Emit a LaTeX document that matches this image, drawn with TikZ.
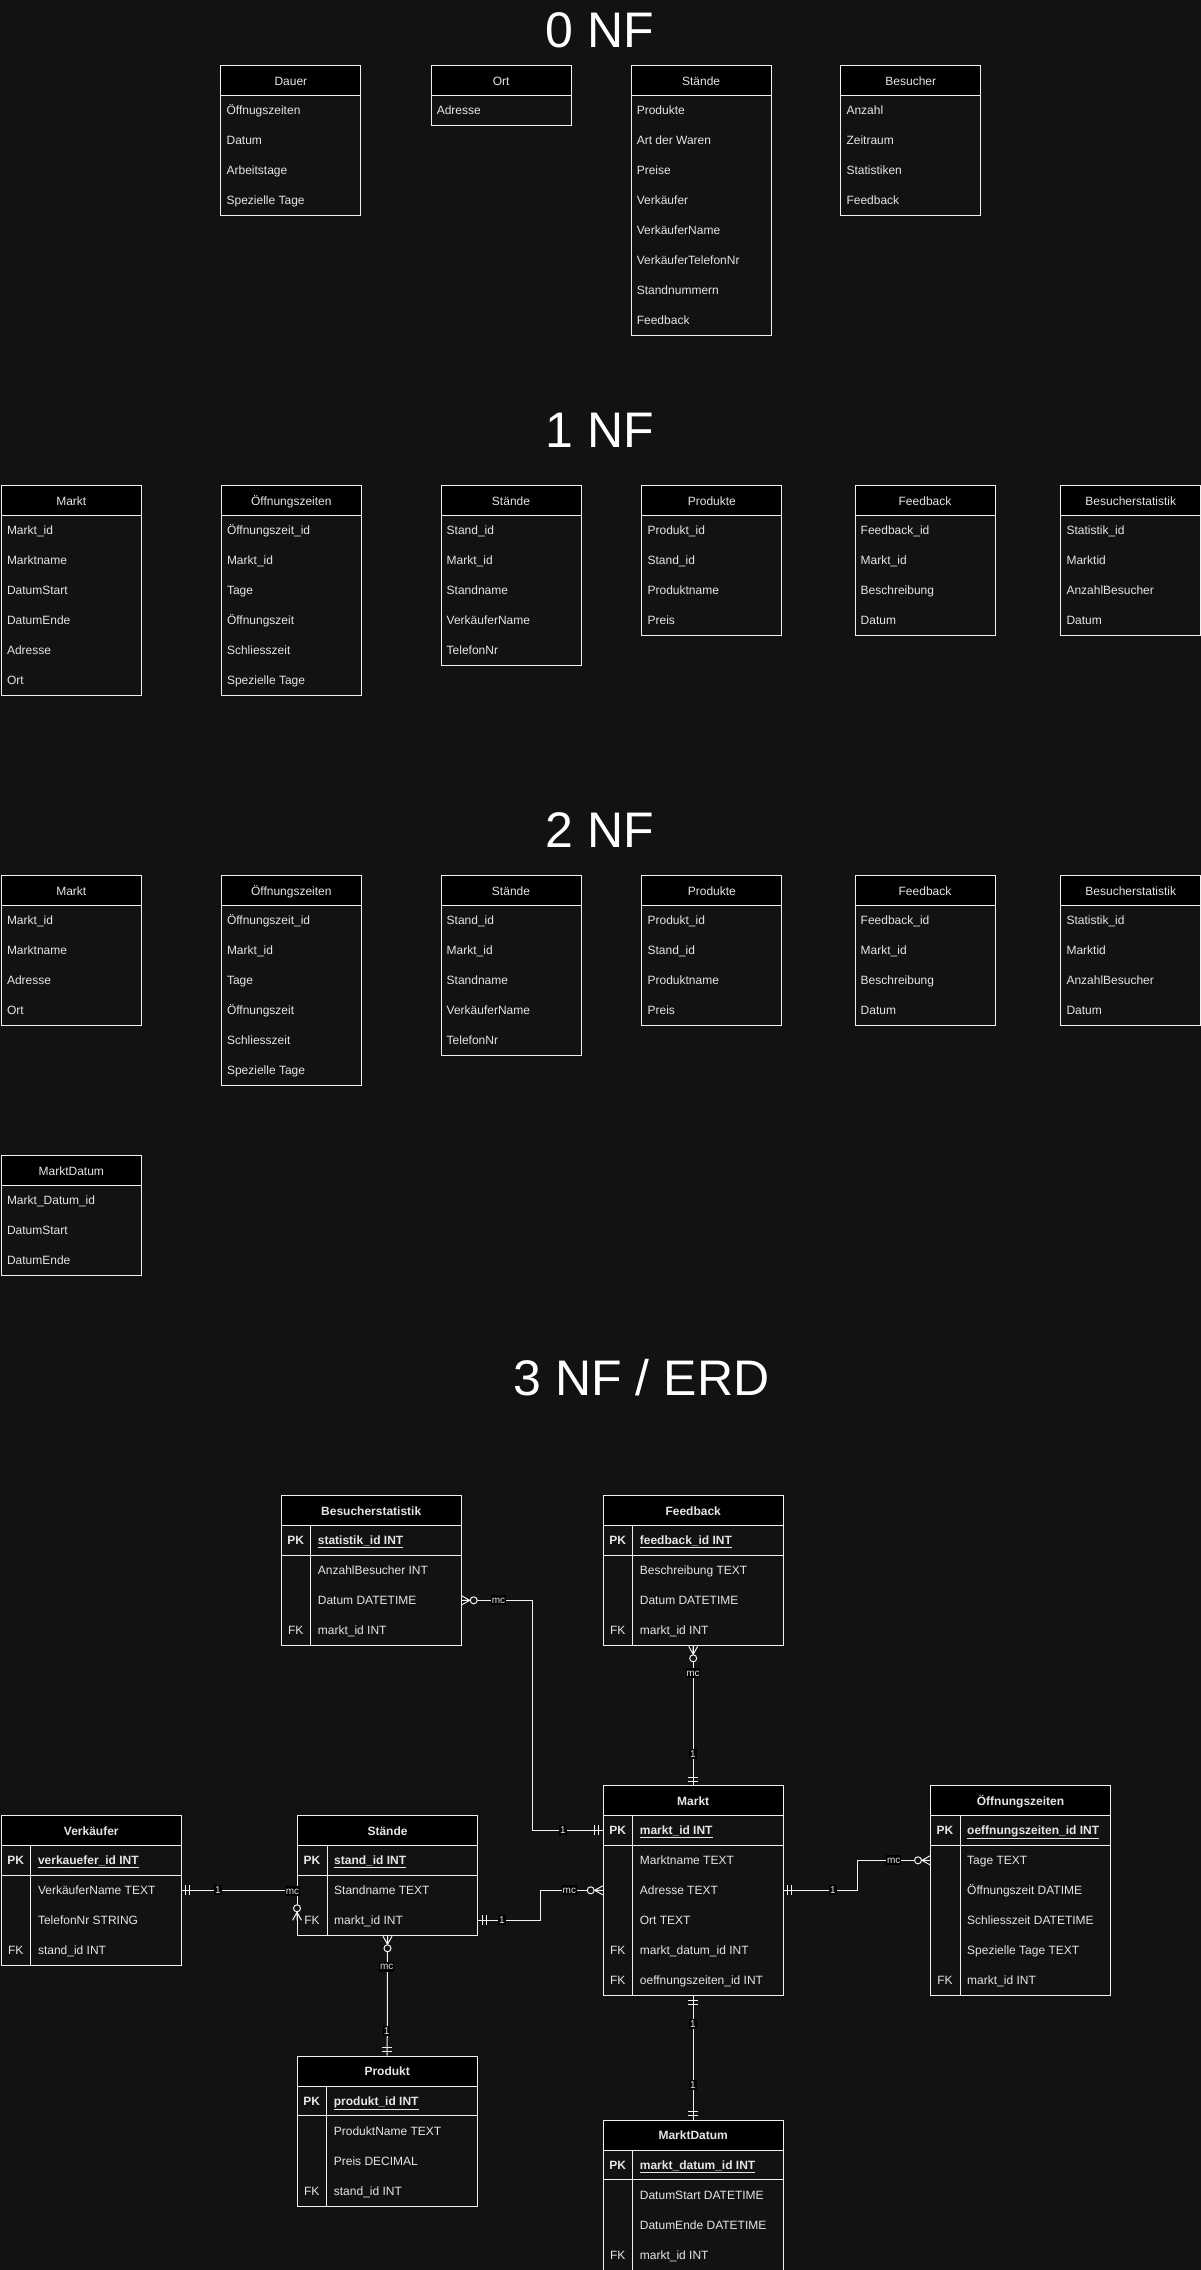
\documentclass[tikz,border=0pt]{standalone}
\usepackage{fontspec}
\setmainfont{Liberation Sans}
\definecolor{bg}{HTML}{121212}
\definecolor{fg}{HTML}{E6E6E6}
\definecolor{ln}{HTML}{F2F2F2}

\tikzset{
  nfbox/.style={draw=ln, line width=1pt, anchor=north west, minimum width=140pt, inner sep=0pt, fill=bg},
  nfhead/.style={draw=ln, line width=1pt, fill=black, anchor=north west, minimum width=140pt, minimum height=30pt, inner sep=0pt, text=fg, font=\fontsize{12}{14}\selectfont, text height=11pt, text depth=2.4pt},
  erbox/.style={draw=ln, line width=1pt, anchor=north west, minimum width=180pt, inner sep=0pt, fill=bg},
  erhead/.style={draw=ln, line width=1pt, fill=black, anchor=north west, minimum width=180pt, minimum height=30pt, inner sep=0pt, text=fg, font=\fontsize{12}{14}\selectfont\bfseries, text height=11pt, text depth=2.4pt},
  rowtxt/.style={anchor=base west, inner sep=0pt, text=fg, font=\fontsize{12}{14}\selectfont},
  keytxt/.style={anchor=base, inner sep=0pt, text=fg, font=\fontsize{12}{14}\selectfont},
  sepline/.style={draw=ln, line width=1pt},
  conn/.style={draw=ln, line width=1pt},
  lbl/.style={fill=black, text=fg, font=\fontsize{10}{12}\selectfont, inner xsep=0.8pt, inner ysep=0.6pt, text height=7.5pt, text depth=1.5pt},
  title/.style={text=white, font=\fontsize{50}{60}\selectfont, inner sep=0pt}
}

% name, x, y, title, rows
\newcommand\nftable[5]{%
  \gdef\nfrows{0}%
  \foreach \rowtext [count=\ii] in {#5} {\xdef\nfrows{\ii}}%
  \node[nfbox, minimum height={30+30*\nfrows}] (#1) at (#2,#3) {};
  \node[nfhead] (#1-h) at (#2,#3) {#4};
  \foreach \rowtext [count=\ii] in {#5} {
    \node[rowtxt] (#1-\ii) at ({#2+6},{#3+30*\ii+15+4.3}) {\rowtext};
  }
}

% name, x, y, title, key/field rows (first is PK)
\newcommand\erdtable[5]{%
  \gdef\errows{0}%
  \foreach \kk/\ff [count=\ii] in {#5} {\xdef\errows{\ii}}%
  \node[erbox, minimum height={30+30*\errows}] (#1) at (#2,#3) {};
  \node[erhead] (#1-h) at (#2,#3) {#4};
  \draw[sepline] ({#2},{#3+60}) -- ({#2+180},{#3+60});
  \draw[sepline] ({#2+30},{#3+30}) -- ({#2+30},{#3+30+30*\errows});
  \foreach \kk/\ff [count=\ii] in {#5} {
    \coordinate (#1-r\ii) at ({#2+90},{#3+30*\ii+15});
    \ifnum\ii=1
      \node[keytxt, font=\fontsize{12}{14}\selectfont\bfseries] (#1-k\ii) at ({#2+15},{#3+30*\ii+15+4.3}) {\kk};
      \node[rowtxt, font=\fontsize{12}{14}\selectfont\bfseries] (#1-f\ii) at ({#2+37},{#3+30*\ii+15+4.3}) {\underline{\ff}};
    \else
      \node[keytxt] (#1-k\ii) at ({#2+15},{#3+30*\ii+15+4.3}) {\kk};
      \node[rowtxt] (#1-f\ii) at ({#2+37},{#3+30*\ii+15+4.3}) {\ff};
    \fi
  }
}

% markers: point, outward direction angle
\newcommand\zeromany[2]{%
  \begin{scope}[shift={#1},rotate=#2]
    \draw[conn] (0,-4.5) -- (8,0) -- (0,4.5) (0,0) -- (8,0);
    \draw[conn, fill=bg] (12,0) circle (3.5);
  \end{scope}}
\newcommand\mandone[2]{%
  \begin{scope}[shift={#1},rotate=#2]
    \draw[conn] (4,-5) -- (4,5) (8,-5) -- (8,5);
  \end{scope}}

\begin{document}
\begin{tikzpicture}[x=1pt,y=-1pt]
\useasboundingbox (0,0) rectangle (1201,2270);
\fill[bg] (0,0) rectangle (1201,2270);

% ---------- 0 NF ----------
\node[title] (t0) at (600,30) {0 NF};
\nftable{dauer}{220.4}{65.3}{Dauer}{Öffnugszeiten,Datum,Arbeitstage,Spezielle Tage}
\nftable{ort}{430.6}{65.3}{Ort}{Adresse}
\nftable{staendeA}{630.6}{65.3}{Stände}{Produkte,Art der Waren,Preise,Verkäufer,VerkäuferName,VerkäuferTelefonNr,Standnummern,Feedback}
\nftable{besucher}{840.3}{65.3}{Besucher}{Anzahl,Zeitraum,Statistiken,Feedback}

% ---------- 1 NF ----------
\node[title] (t1) at (600,430) {1 NF};
\nftable{marktB}{0.8}{485.3}{Markt}{Markt\_id,Marktname,DatumStart,DatumEnde,Adresse,Ort}
\nftable{ozB}{220.8}{485.3}{Öffnungszeiten}{Öffnungszeit\_id,Markt\_id,Tage,Öffnungszeit,Schliesszeit,Spezielle Tage}
\nftable{stB}{440.5}{485.3}{Stände}{Stand\_id,Markt\_id,Standname,VerkäuferName,TelefonNr}
\nftable{prB}{641.4}{485.3}{Produkte}{Produkt\_id,Stand\_id,Produktname,Preis}
\nftable{fbB}{854.5}{485.3}{Feedback}{Feedback\_id,Markt\_id,Beschreibung,Datum}
\nftable{bsB}{1060.3}{485.3}{Besucherstatistik}{Statistik\_id,Marktid,AnzahlBesucher,Datum}

% ---------- 2 NF ----------
\node[title] (t2) at (600,830) {2 NF};
\nftable{marktC}{0.8}{875.3}{Markt}{Markt\_id,Marktname,Adresse,Ort}
\nftable{ozC}{220.8}{875.3}{Öffnungszeiten}{Öffnungszeit\_id,Markt\_id,Tage,Öffnungszeit,Schliesszeit,Spezielle Tage}
\nftable{stC}{440.5}{875.3}{Stände}{Stand\_id,Markt\_id,Standname,VerkäuferName,TelefonNr}
\nftable{prC}{641.4}{875.3}{Produkte}{Produkt\_id,Stand\_id,Produktname,Preis}
\nftable{fbC}{854.5}{875.3}{Feedback}{Feedback\_id,Markt\_id,Beschreibung,Datum}
\nftable{bsC}{1060.3}{875.3}{Besucherstatistik}{Statistik\_id,Marktid,AnzahlBesucher,Datum}
\nftable{mdC}{0.8}{1155.3}{MarktDatum}{Markt\_Datum\_id,DatumStart,DatumEnde}

% ---------- 3 NF / ERD ----------
\node[title] (t3) at (641.5,1378) {3 NF / ERD};

\erdtable{bst}{280.7}{1495.3}{Besucherstatistik}{PK/statistik\_id INT, /AnzahlBesucher INT, /Datum DATETIME, FK/markt\_id INT}
\erdtable{fb}{602.7}{1495.3}{Feedback}{PK/feedback\_id INT, /Beschreibung TEXT, /Datum DATETIME, FK/markt\_id INT}
\erdtable{vk}{0.8}{1815.3}{Verkäufer}{PK/verkauefer\_id INT, /VerkäuferName TEXT, /TelefonNr STRING, FK/stand\_id INT}
\erdtable{st}{297}{1815.3}{Stände}{PK/stand\_id INT, /Standname TEXT, FK/markt\_id INT}
\erdtable{mk}{602.7}{1785.3}{Markt}{PK/markt\_id INT, /Marktname TEXT, /Adresse TEXT, /Ort TEXT, FK/markt\_datum\_id INT, FK/oeffnungszeiten\_id INT}
\erdtable{oz}{930}{1785.3}{Öffnungszeiten}{PK/oeffnungszeiten\_id INT, /Tage TEXT, /Öffnungszeit DATIME, /Schliesszeit DATETIME, /Spezielle Tage TEXT, FK/markt\_id INT}
\erdtable{pr}{296.7}{2055.7}{Produkt}{PK/produkt\_id INT, /ProduktName TEXT, /Preis DECIMAL, FK/stand\_id INT}
\erdtable{md}{602.7}{2119.7}{MarktDatum}{PK/markt\_datum\_id INT, /DatumStart DATETIME, /DatumEnde DATETIME, FK/markt\_id INT}

% connectors
\draw[conn] (bst.east |- bst-r3) -- ++(71.2,0) |- (mk.west |- mk-r1);
\draw[conn] (fb.south) -- (mk.north);
\draw[conn] (vk.east |- vk-r2) -- (st.west |- vk-r2) -- (st.west |- st-r3);
\draw[conn] (st.east |- st-r3) -- ++(62.4,0) |- (mk.west |- mk-r3);
\draw[conn] (st.south) -- (pr.north);
\draw[conn] (mk.east |- mk-r3) -- ++(73.6,0) |- (oz.west |- oz-r2);
\draw[conn] (mk.south) -- (md.north);

% markers
\zeromany{(bst.east |- bst-r3)}{0}
\mandone{(mk.west |- mk-r1)}{180}
\zeromany{(fb.south)}{-90}
\mandone{(mk.north)}{90}
\mandone{(vk.east |- vk-r2)}{0}
\zeromany{(st.west |- st-r3)}{90}
\mandone{(st.east |- st-r3)}{0}
\zeromany{(mk.west |- mk-r3)}{180}
\zeromany{(st.south)}{-90}
\mandone{(pr.north)}{90}
\mandone{(mk.east |- mk-r3)}{0}
\zeromany{(oz.west |- oz-r2)}{180}
\mandone{(mk.south)}{-90}
\mandone{(md.north)}{90}

% labels
\node[lbl] (l1a) at (498.5,1600) {mc};
\node[lbl] (l1b) at (563,1830) {1};
\node[lbl] (l2a) at (693,1673) {mc};
\node[lbl] (l2b) at (693,1754) {1};
\node[lbl] (l3a) at (218,1890) {1};
\node[lbl] (l3b) at (292.5,1891) {mc};
\node[lbl] (l4a) at (502,1920) {1};
\node[lbl] (l4b) at (569.4,1890) {mc};
\node[lbl] (l5a) at (386.7,1966.7) {mc};
\node[lbl] (l5b) at (386.7,2031) {1};
\node[lbl] (l6a) at (833,1890) {1};
\node[lbl] (l6b) at (893.7,1860) {mc};
\node[lbl] (l7a) at (693,2024) {1};
\node[lbl] (l7b) at (693,2085.3) {1};
\end{tikzpicture}
\end{document}
